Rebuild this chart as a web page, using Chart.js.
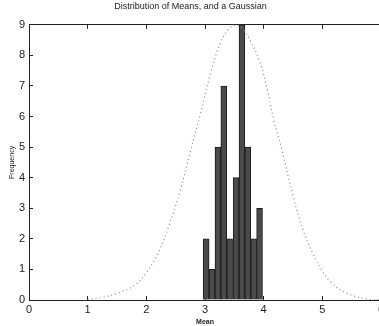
<!DOCTYPE html>
<html>
<head>
<meta charset="utf-8">
<script src="https://cdn.jsdelivr.net/npm/chart.js@4/dist/chart.umd.min.js"></script>
<style>
  html, body { margin: 0; padding: 0; overflow: hidden; background: #fff; }
  #wrap { width: 392px; height: 326px; }
</style>
</head>
<body>
<div id="wrap"><canvas id="meansChart"></canvas></div>
<script>
// histogram bins (bin centres) and counts
const binCenters = [3.02, 3.12, 3.22, 3.32, 3.42, 3.53, 3.63, 3.73, 3.83, 3.93];
const binCounts = [2, 1, 5, 7, 2, 4, 9, 5, 2, 3];

// dotted gaussian, points
const gaussX = [1.0, 1.27, 1.5, 1.81, 2.01, 2.21, 2.38, 2.58, 2.75, 2.92, 3.1, 3.26, 3.4, 3.53, 3.65, 3.78, 3.94, 4.06, 4.17, 4.31, 4.51, 4.68, 4.85, 4.99, 5.14, 5.36, 5.76, 6.0];
const gaussY = [0.02, 0.09, 0.22, 0.49, 0.92, 1.58, 2.4, 3.6, 4.86, 6.07, 7.45, 8.4, 8.85, 9.0, 8.85, 8.45, 7.76, 6.89, 5.9, 4.92, 3.33, 2.24, 1.48, 0.98, 0.6, 0.27, 0.03, 0.01];

const xTicks = [0, 1, 2, 3, 4, 5, 6];
const yTicks = [0, 1, 2, 3, 4, 5, 6, 7, 8, 9];

const fontFam = '"Liberation Sans", Arial, sans-serif';

const barData = binCenters.map((x, i) => ({ x: x, y: binCounts[i] }));
const lineData = gaussX.map((x, i) => ({ x: x, y: gaussY[i] }));

new Chart(document.getElementById("meansChart"), {
  type: "bar",
  data: {
    datasets: [
      {
        type: "bar",
        data: barData,
        backgroundColor: "#4a4a4a",
        borderColor: "#1c1c1c",
        borderWidth: 1,
        barPercentage: 1,
        categoryPercentage: 1,
        order: 2
      },
      {
        type: "line",
        data: lineData,
        borderColor: "#888",
        borderWidth: 1.2,
        borderDash: [1, 3],
        pointRadius: 0,
        tension: 0.4,
        fill: false,
        order: 1
      }
    ]
  },
  options: {
    responsive: true,
    maintainAspectRatio: false,
    animation: false,
    layout: { padding: { left: 0, right: 11, top: 0, bottom: 0 } },
    plugins: {
      legend: { display: false },
      tooltip: { enabled: false },
      title: {
        display: true,
        text: "Distribution of Means, and a Gaussian",
        color: "#222",
        font: { family: fontFam, size: 9, weight: "normal" },
        padding: { top: 1, bottom: 13 }
      }
    },
    scales: {
      x: {
        type: "linear",
        offset: false,
        min: 0,
        max: 6,
        afterBuildTicks: (s) => { s.ticks = xTicks.map(v => ({ value: v })); },
        afterFit: (s) => { s.height = 26; },
        ticks: { color: "#222", font: { family: fontFam, size: 11 }, padding: 7, maxRotation: 0 },
        grid: { display: true, offset: false, drawOnChartArea: false, tickLength: -4, color: "#222" },
        border: { display: true, color: "#222", width: 1 },
        title: { display: true, text: "Mean", color: "#222", font: { family: fontFam, size: 7, weight: "bold" }, padding: { top: 0, bottom: 0 } }
      },
      xTop: {
        type: "linear",
        position: "top",
        offset: false,
        min: 0,
        max: 6,
        afterBuildTicks: (s) => { s.ticks = xTicks.map(v => ({ value: v })); },
        afterFit: (s) => { s.height = 0; },
        ticks: { display: false },
        grid: { display: true, offset: false, drawOnChartArea: false, tickLength: -4, color: "#222" },
        border: { display: true, color: "#222", width: 1 }
      },
      y: {
        min: 0,
        max: 9,
        afterBuildTicks: (s) => { s.ticks = yTicks.map(v => ({ value: v })); },
        afterFit: (s) => { s.width = 29; },
        ticks: { color: "#222", font: { family: fontFam, size: 11 }, padding: 8 },
        grid: { display: true, drawOnChartArea: false, tickLength: -4, color: "#222" },
        border: { display: true, color: "#222", width: 1 },
        title: { display: true, text: "Frequency", color: "#222", font: { family: fontFam, size: 7 }, padding: { top: 8, bottom: 0 } }
      }
    }
  }
});
</script>
</body>
</html>
